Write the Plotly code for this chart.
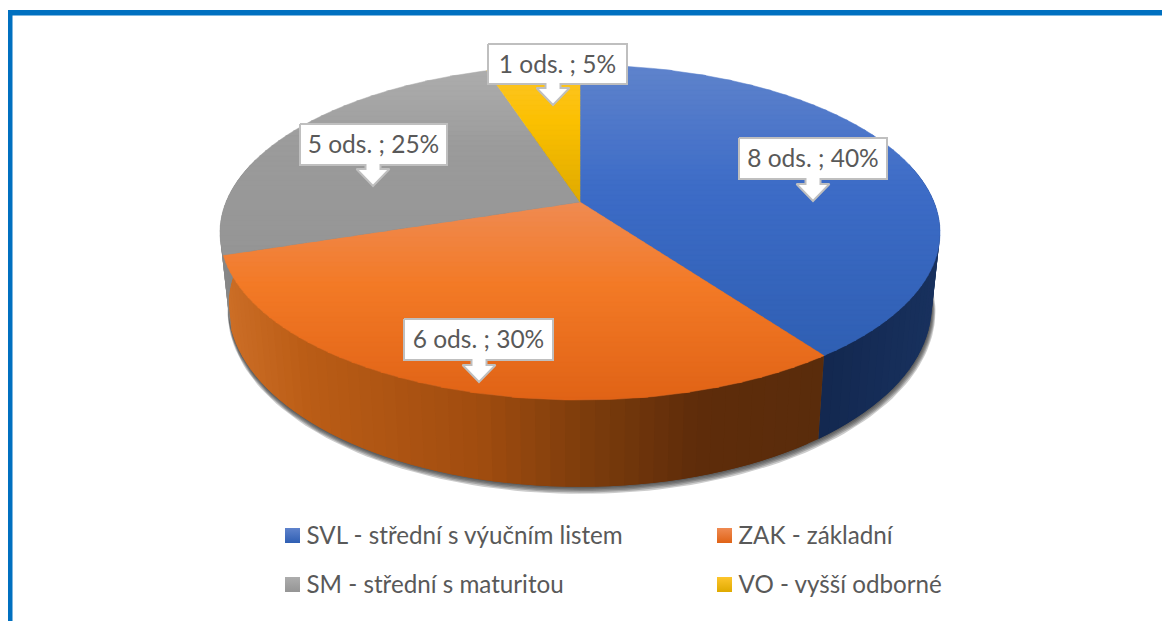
import math
import plotly.graph_objects as go

# ---- data ----
categories = ["SVL - střední s výučním listem", "ZAK - základní", "SM - střední s maturitou", "VO - vyšší odborné"]
counts = [8, 6, 5, 1]
unit = "ods."

# ---- styling ----
top_light = ["#5f83cc", "#ef8a52", "#adadad", "#fdc52c"]
top_mid = ["#3d6cc7", "#f37a26", "#9b9b9b", "#fbc000"]
top_dark = ["#2f5fb3", "#e06316", "#959595", "#dfaa00"]
wall_stops = {
    0: [(700, "#152a52"), (830, "#132850"), (940, "#18315e")],
    1: [(225, "#cc6e26"), (300, "#bb5d16"), (480, "#a04c0f"), (580, "#7e3d0c"), (700, "#5e2c0a"), (820, "#5a2c0b")],
    2: [(215, "#8a8a8a"), (235, "#7f7f7f")],
    3: [(480, "#b08800"), (580, "#b08800")],
}
FONT = "Lato"
TEXT = "#595959"
BORDER = "#bfbfbf"
FRAME = "#0070c0"
label_size = 24.5
legend_size = 24.2

# projection of the round pie onto the picture
CX, CY = 580.0, 202.0
RX, RY = 354.0, 162.0
PERSP = 0.182
DEPTH = 71.0
BASE_SCALE = 0.977


def project(theta, r=1.0, drop=0.0):
    X, Y = r * math.sin(theta), -r * math.cos(theta)
    w = 1 - PERSP * Y
    scale = 1 - (1 - BASE_SCALE) * min(drop, DEPTH) / DEPTH
    return CX + RX * X / w * scale, CY + RY * Y / w + drop / w


def hex_rgb(h):
    return tuple(int(h[i:i + 2], 16) for i in (1, 3, 5))


def mix(stops, v):
    if v <= stops[0][0]:
        return stops[0][1]
    for (a, ca), (b, cb) in zip(stops, stops[1:]):
        if v <= b:
            t = (v - a) / (b - a)
            ra, rb = hex_rgb(ca), hex_rgb(cb)
            return "#%02x%02x%02x" % tuple(round(p + (q - p) * t) for p, q in zip(ra, rb))
    return stops[-1][1]


def clip_band(poly, y1, y2):
    def clip(pts, keep, edge):
        out = []
        for i, p in enumerate(pts):
            q = pts[(i + 1) % len(pts)]
            kp, kq = keep(p), keep(q)
            if kp:
                out.append(p)
            if kp != kq:
                t = (edge - p[1]) / (q[1] - p[1])
                out.append((p[0] + (q[0] - p[0]) * t, edge))
        return out
    pts = clip(poly, lambda p: p[1] >= y1, y1)
    if pts:
        pts = clip(pts, lambda p: p[1] <= y2, y2)
    return pts


def poly_trace(pts, color, lw=0.6):
    xs = [p[0] for p in pts] + [pts[0][0]]
    ys = [p[1] for p in pts] + [pts[0][1]]
    return go.Scatter(x=xs, y=ys, mode="lines", fill="toself", fillcolor=color,
                      line=dict(color=color, width=lw), hoverinfo="skip", showlegend=False)


fig = go.Figure()
total = sum(counts)
angles = [0.0]
for c in counts:
    angles.append(angles[-1] + 2 * math.pi * c / total)

# soft shadow under the disc
for k in range(1, 6):
    ring = [project(2 * math.pi * i / 240, 1 + 0.0012 * k, DEPTH + 0.9 * k) for i in range(240)]
    ring = [(x + 0.3 * k, y) for x, y in ring]
    fig.add_trace(poly_trace(ring, "rgba(40,40,40,0.24)", 0))

# side wall
for s, c in enumerate(counts):
    a0, a1 = angles[s], angles[s + 1]
    n = max(2, int((a1 - a0) / math.radians(2.0)))
    for i in range(n):
        t0 = a0 + (a1 - a0) * i / n
        t1 = a0 + (a1 - a0) * (i + 1) / n
        t1x = min(a1, t1 + (a1 - a0) / n)
        if -math.cos((t0 + t1) / 2) < -0.25:
            continue
        pts = [project(t0), project(t1x), project(t1x, drop=DEPTH), project(t0, drop=DEPTH)]
        xm = (project(t0)[0] + project(t1)[0]) / 2
        fig.add_trace(poly_trace(pts, mix(wall_stops[s], xm), 0))

# top surface, with a vertical gradient in every slice
for s, c in enumerate(counts):
    a0, a1 = angles[s], angles[s + 1]
    n = max(8, int((a1 - a0) / math.radians(1.0)))
    wedge = [(CX, CY)] + [project(a0 + (a1 - a0) * i / n) for i in range(n + 1)]
    ymin, ymax = min(p[1] for p in wedge), max(p[1] for p in wedge)
    stops = [(ymin, top_light[s]), (ymin + 0.42 * (ymax - ymin), top_mid[s]), (ymax, top_dark[s])]
    step = 5.0
    y = ymin
    while y < ymax:
        part = clip_band(wedge, y, min(y + step + 0.6, ymax))
        if len(part) >= 3:
            fig.add_trace(poly_trace(part, mix(stops, y + step / 2), 0.5))
        y += step

# callouts: (left, top, right, bottom, arrow tip x, arrow tip y), one per slice
callouts = [
    (739, 138, 887, 179, 813, 201),
    (404, 319, 553, 360, 479, 382),
    (300, 124, 447, 165, 373, 186),
    (488, 44, 627, 84, 553, 105),
]
for c, box in zip(counts, callouts):
    l, t, r, b, tx, ty = box
    shape = [(l, t), (r, t), (r, b), (tx + 7.5, b), (tx + 7.5, ty - 17), (tx + 16.5, ty - 17), (tx, ty),
             (tx - 16.5, ty - 17), (tx - 7.5, ty - 17), (tx - 7.5, b), (l, b)]
    xs = [p[0] for p in shape] + [l]
    ys = [p[1] for p in shape] + [t]
    fig.add_trace(go.Scatter(x=xs, y=ys, mode="lines", fill="toself", fillcolor="white",
                             line=dict(color=BORDER, width=2), hoverinfo="skip", showlegend=False))
    label = f"{c} {unit} ; {round(100 * c / total)}%"
    fig.add_trace(go.Scatter(x=[(l + r) / 2], y=[(t + b) / 2 + 2.5], mode="text", text=[label],
                             textposition="middle center", hoverinfo="skip", showlegend=False,
                             textfont=dict(family=FONT, size=label_size, color=TEXT)))

# legend
legend_slots = [(292.5, 535.5), (724.5, 535.5), (292.5, 584.5), (724.5, 584.5)]
for s, name in enumerate(categories):
    x, y = legend_slots[s]
    fig.add_trace(go.Scatter(x=[x], y=[y], mode="markers", hoverinfo="skip", showlegend=False,
                             marker=dict(symbol="square", size=15, color=top_light[s], line=dict(width=0),
                                         gradient=dict(type="vertical", color=top_dark[s]))))
    fig.add_trace(go.Scatter(x=[x + 14], y=[y + 2], mode="text", text=[name], textposition="middle right",
                             hoverinfo="skip", showlegend=False,
                             textfont=dict(family=FONT, size=legend_size, color=TEXT)))

fig.update_layout(
    width=1162, height=621, margin=dict(l=0, r=0, t=0, b=0),
    paper_bgcolor="white", plot_bgcolor="white", showlegend=False,
    xaxis=dict(range=[0, 1162], visible=False, fixedrange=True),
    yaxis=dict(range=[621, 0], visible=False, fixedrange=True),
    shapes=[
        dict(type="rect", xref="x", yref="y", x0=8, x1=1162, y0=10, y1=15.5, fillcolor=FRAME, line_width=0),
        dict(type="rect", xref="x", yref="y", x0=8, x1=12.5, y0=10, y1=621, fillcolor=FRAME, line_width=0),
    ],
)
fig.write_html("out.html", config={"displayModeBar": False},
               post_script="document.body.style.margin='0';document.body.style.overflow='hidden';")
